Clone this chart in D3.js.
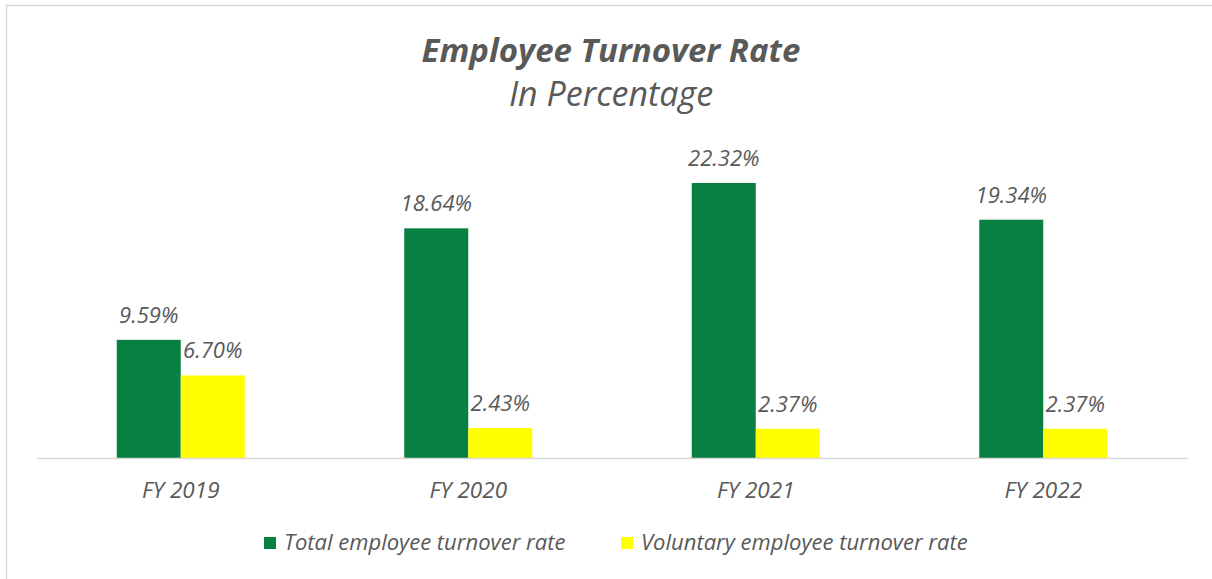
<!DOCTYPE html>
<html>
<head>
<meta charset="utf-8">
<script src="https://cdn.jsdelivr.net/npm/d3@7"></script>
<style>
  body { margin: 0; background: #fff; }
  text { font-family: "Open Sans", sans-serif; fill: #595959; }
</style>
</head>
<body>
<div id="chart"></div>
<script>
// data
var years = ["FY 2019", "FY 2020", "FY 2021", "FY 2022"];
var totalRate = [9.59, 18.64, 22.32, 19.34];
var voluntaryRate = [6.70, 2.43, 2.37, 2.37];
var seriesNames = ["Total employee turnover rate", "Voluntary employee turnover rate"];
var colors = ["#078041", "#ffff00"];

var W = 1212, H = 579;
var margin = {top: 0, left: 37, right: 25, bottom: 0};
var baseY = 458;

var svg = d3.select("#chart")
  .append("svg")
    .attr("width", W)
    .attr("height", H);

// outer frame (only top & left visible)
svg.append("path")
  .attr("d", "M6.5,600 L6.5,5.5 L1212,5.5")
  .attr("fill", "none")
  .attr("stroke", "#d9d9d9")
  .attr("stroke-width", 1.5);

var rows = years.map(function(d, i) {
  return {year: d, values: [totalRate[i], voluntaryRate[i]]};
});

var x = d3.scaleBand()
  .domain(years)
  .range([margin.left, W - margin.right]);

var xInner = d3.scaleBand()
  .domain([0, 1])
  .range([0, 128]);

var y = d3.scaleLinear()
  .domain([0, 22.32])
  .range([baseY, 183]);

// title
svg.append("text")
  .attr("x", 611).attr("y", 62)
  .attr("text-anchor", "middle")
  .style("font-size", "33px")
  .style("font-weight", "bold")
  .style("font-style", "italic")
  .text("Employee Turnover Rate");
svg.append("text")
  .attr("x", 611).attr("y", 106)
  .attr("text-anchor", "middle")
  .style("font-size", "34px")
  .style("font-style", "italic")
  .text("In Percentage");

// bars
var groups = svg.selectAll(".grp")
  .data(rows)
  .enter()
  .append("g")
    .attr("class", "grp")
    .attr("transform", function(d) { return "translate(" + (x(d.year) + x.bandwidth() / 2 - 64) + ",0)"; });

groups.selectAll("rect")
  .data(function(d) { return d.values; })
  .enter()
  .append("rect")
    .attr("x", function(d, i) { return xInner(i); })
    .attr("y", function(d) { return y(d); })
    .attr("width", xInner.bandwidth())
    .attr("height", function(d) { return baseY - y(d); })
    .attr("fill", function(d, i) { return colors[i]; });

groups.selectAll(".lbl")
  .data(function(d) { return d.values; })
  .enter()
  .append("text")
    .attr("class", "lbl")
    .attr("x", function(d, i) { return xInner(i) + xInner.bandwidth() / 2; })
    .attr("y", function(d) { return y(d) - 17; })
    .attr("text-anchor", "middle")
    .style("font-size", "22px")
    .style("font-style", "italic")
    .text(function(d) { return d.toFixed(2) + "%"; });

// x axis
var xAxis = svg.append("g")
  .attr("transform", "translate(0," + baseY + ")")
  .call(d3.axisBottom(x).tickSize(0).tickPadding(24));
xAxis.select(".domain").attr("stroke", "#d9d9d9").attr("stroke-width", 1.5);
xAxis.selectAll("text")
  .style("font-size", "22.5px")
  .style("font-style", "italic")
  .style("font-family", "'Open Sans', sans-serif")
  .attr("fill", "#595959");

// legend
var legendX = [264, 621];
var legend = svg.selectAll(".leg")
  .data(seriesNames)
  .enter()
  .append("g")
    .attr("class", "leg")
    .attr("transform", function(d, i) { return "translate(" + legendX[i] + ",537)"; });
legend.append("rect")
  .attr("width", 12).attr("height", 12)
  .attr("fill", function(d, i) { return colors[i]; });
legend.append("text")
  .attr("x", 20).attr("y", 13)
  .style("font-size", "22px")
  .style("font-style", "italic")
  .text(function(d) { return d; });
</script>
</body>
</html>
